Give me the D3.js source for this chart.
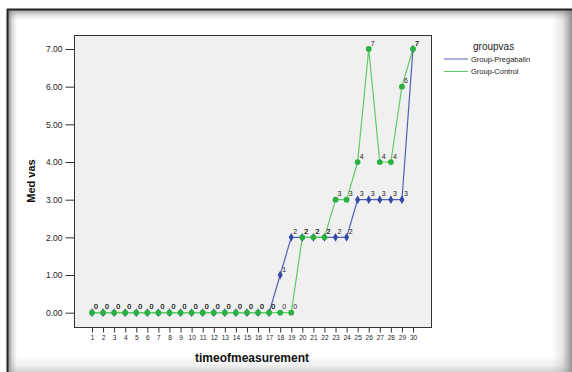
<!DOCTYPE html>
<html><head><meta charset="utf-8">
<script src="https://cdn.jsdelivr.net/npm/d3@7"></script>
<style>body{margin:0;background:#fff}svg{display:block}</style>
</head><body>
<svg id="c" width="572" height="372"></svg>
<script>
const times = d3.range(1, 31).map(String);
const pregabalin = [0,0,0,0,0,0,0,0,0,0,0,0,0,0,0,0,0,1,2,2,2,2,2,2,3,3,3,3,3,7];
const control    = [0,0,0,0,0,0,0,0,0,0,0,0,0,0,0,0,0,0,0,2,2,2,3,3,4,7,4,4,6,7];
const yTicks = [0,1,2,3,4,5,6,7];
const seriesNames = ["Group-Pregabalin","Group-Control"];

const svg = d3.select("#c");
const font = "'Liberation Sans', Arial, sans-serif";
const defs = svg.append("defs");
function grad(id,x1,y1,x2,y2,stops){
  const g=defs.append("linearGradient").attr("id",id).attr("x1",x1).attr("y1",y1).attr("x2",x2).attr("y2",y2);
  stops.forEach(s=>g.append("stop").attr("offset",s[0]).attr("stop-color",s[1]).attr("stop-opacity",s[2]));
}
grad("gt",0,0,0,1,[[0,"#888",0.8],[0.5,"#888",0.25],[1,"#888",0]]);
grad("gl",0,0,1,0,[[0,"#777",0.85],[0.5,"#888",0.3],[1,"#888",0]]);
grad("gr",0,0,1,0,[[0,"#888",0],[0.5,"#888",0.2],[1,"#777",0.8]]);
grad("gb",0,0,0,1,[[0,"#999",0],[0.6,"#999",0.15],[1,"#999",0.45]]);

// frame
svg.append("rect").attr("x",0).attr("y",0).attr("width",572).attr("height",372).attr("fill","#fff");
svg.append("rect").attr("x",8).attr("y",10).attr("width",564).attr("height",10).attr("fill","url(#gt)");
svg.append("rect").attr("x",8).attr("y",10).attr("width",9).attr("height",362).attr("fill","url(#gl)");
svg.append("rect").attr("x",552).attr("y",10).attr("width",20).attr("height",362).attr("fill","url(#gr)");
svg.append("rect").attr("x",8).attr("y",356).attr("width",564).attr("height",16).attr("fill","url(#gb)");
svg.append("line").attr("x1",7).attr("x2",572).attr("y1",9.5).attr("y2",9.5).attr("stroke","#222").attr("stroke-width",2);
svg.append("line").attr("x1",7.5).attr("x2",7.5).attr("y1",9).attr("y2",372).attr("stroke","#222").attr("stroke-width",2);

const L=74, R=431, T=35, B=327;
const x = d3.scalePoint().domain(times).range([92,413]);
const y = d3.scaleLinear().domain([0,7]).range([312.7,49]);

svg.append("rect").attr("x",L+0.5).attr("y",T+0.5).attr("width",R-L).attr("height",B-T)
  .attr("fill","#f0f0f0").attr("stroke","#333").attr("stroke-width",1);

// y axis
const ya = svg.append("g").attr("transform",`translate(${L+0.5},0)`)
  .call(d3.axisLeft(y).tickValues(yTicks).tickFormat(d3.format(".2f")).tickSize(9).tickPadding(3));
ya.select(".domain").remove();
ya.selectAll("line").attr("stroke","#333");
ya.selectAll("text").attr("font-family",font).attr("font-size",8.5).attr("fill","#222");

// x axis
const xa = svg.append("g").attr("transform",`translate(0,${B+0.5})`)
  .call(d3.axisBottom(x).tickSize(5).tickPadding(3));
xa.select(".domain").remove();
xa.selectAll("line").attr("stroke","#333");
xa.selectAll("text").attr("font-family",font).attr("font-size",6.5).attr("fill","#222");

// titles
svg.append("text").attr("x",252).attr("y",362).attr("text-anchor","middle")
  .attr("font-family",font).attr("font-weight","bold").attr("font-size",12).attr("fill","#111").text("timeofmeasurement");
svg.append("text").attr("transform","translate(35,181) rotate(-90)").attr("text-anchor","middle")
  .attr("font-family",font).attr("font-weight","bold").attr("font-size",11).attr("fill","#111").text("Med vas");

const series = [
  {name:seriesNames[0], vals:pregabalin, line:"#5060b8", mark:"#3347a8", shape:d3.symbolDiamond, size:22},
  {name:seriesNames[1], vals:control, line:"#5ccc64", mark:"#28b040", shape:d3.symbolCircle, size:26}
];
const lineGen = d3.line().x((d,i)=>x(times[i])).y(d=>y(d));
series.forEach(s=>{
  svg.append("path").datum(s.vals).attr("d",lineGen).attr("fill","none").attr("stroke",s.line).attr("stroke-width",1.2);
});
series.forEach(s=>{
  svg.append("g").selectAll("path").data(s.vals).join("path")
    .attr("transform",(d,i)=>`translate(${x(times[i])},${y(d)})`)
    .attr("d",d3.symbol().type(s.shape).size(s.size)).attr("fill",s.mark);
});
series.forEach(s=>{
  svg.append("g").selectAll("text").data(s.vals).join("text")
    .attr("x",(d,i)=>x(times[i])+4).attr("y",d=>y(d)-3.5).attr("text-anchor","middle")
    .attr("font-family",font).attr("font-size",7).attr("fill","#222").text(d=>d);
});

// legend
svg.append("text").attr("x",473).attr("y",50).attr("font-family",font).attr("font-size",10).attr("fill","#222").text("groupvas");
series.forEach((s,i)=>{
  const yy=59+i*12.5;
  svg.append("line").attr("x1",444).attr("x2",468).attr("y1",yy).attr("y2",yy).attr("stroke",s.line).attr("stroke-width",1);
  svg.append("text").attr("x",471).attr("y",yy+2.5).attr("font-family",font).attr("font-size",7.5).attr("fill","#222").text(s.name);
});
</script>
</body></html>
